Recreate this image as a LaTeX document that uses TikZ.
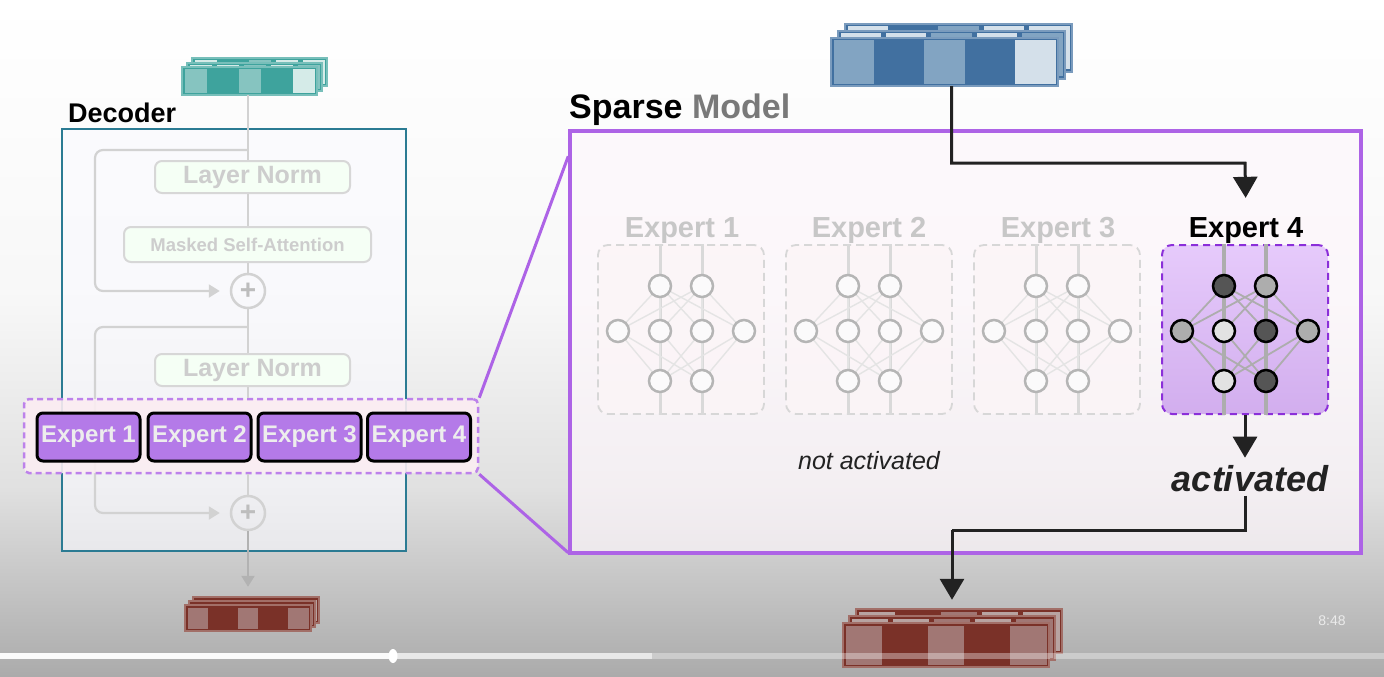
\documentclass[tikz,border=0pt]{standalone}
\usepackage{fontspec}
\setmainfont{Liberation Sans}
\usetikzlibrary{arrows.meta,calc,positioning,shapes.geometric}

\definecolor{tealbase}{HTML}{3EA39D}
\definecolor{teallight}{HTML}{86C4C0}
\definecolor{tealvlight}{HTML}{D5EBE8}
\definecolor{bluebase}{HTML}{4170A0}
\definecolor{bluelight}{HTML}{82A4C2}
\definecolor{bluevlight}{HTML}{D4E0EA}
\definecolor{redbase}{HTML}{7A3128}
\definecolor{redlight}{HTML}{A17774}
\definecolor{redvlight}{HTML}{B8A3A1}
\definecolor{lgray}{HTML}{D2D2D2}
\definecolor{fadetext}{HTML}{CDCDCD}
\definecolor{decteal}{HTML}{2B7B93}
\definecolor{moepurple}{HTML}{B47AE8}
\definecolor{zoompurple}{HTML}{AD63E6}
\definecolor{hotdash}{HTML}{8B2FD9}
\definecolor{hottop}{HTML}{E6CAFB}
\definecolor{hotbottom}{HTML}{D2AEEE}
\definecolor{dark}{HTML}{222222}
\definecolor{netwhite}{HTML}{FBFAFB}
\definecolor{netdark}{HTML}{555555}
\definecolor{netmid}{HTML}{ADADAD}
\definecolor{netlight}{HTML}{E2E2E2}

% one layer of a token stack: x, y (top left), w, h, base, cells
\newcommand{\tokrow}[6]{%
  \filldraw[fill=#5, draw=#5!70!white, line width=1.2pt] (#1,#2) rectangle ++(#3,#4);
  \foreach \c [count=\i from 0] in {#6}{%
    \fill[\c] ({#1+\i*#3/5+2.5},{#2+2.5}) rectangle ++({#3/5-5},{#4-5});
  }%
}

% small network inside an expert box
\newcommand{\expertnet}[4]{%
  \foreach \nx/\ny [count=\i] in {-21/286,21/286,-63/331,-21/331,21/331,63/331,-21/381,21/381}
    \coordinate (#1c\i) at (#2+\nx,\ny);
  \draw[#3 wire] (#1box.north -| #1c1) -- (#1box.south -| #1c1);
  \draw[#3 wire] (#1box.north -| #1c2) -- (#1box.south -| #1c2);
  \foreach \a in {1,2}{\foreach \b in {3,4,5,6}{\draw[#3 edge] (#1c\a) -- (#1c\b);}}
  \foreach \a in {3,4,5,6}{\foreach \b in {7,8}{\draw[#3 edge] (#1c\a) -- (#1c\b);}}
  \foreach \f [count=\i] in {#4}
    \node[#3 node, fill=\f] (#1n\i) at (#1c\i) {};
}

\tikzset{
  cold wire/.style={draw=lgray!85!white, line width=3pt},
  cold edge/.style={draw=lgray!60!white, line width=1.4pt},
  cold node/.style={circle, inner sep=0pt, minimum size=22pt, line width=2.5pt, draw=netmid!90!white},
  hot wire/.style={draw=netmid, line width=3.5pt},
  hot edge/.style={draw=netmid, line width=1.8pt},
  hot node/.style={circle, inner sep=0pt, minimum size=22pt, line width=2.5pt, draw=black},
}

\begin{document}
\begin{tikzpicture}[x=1pt,y=-1pt,
  gline/.style={draw=lgray, line width=2.2pt},
  garrow/.style={gline, -{Triangle[width=13pt,length=11pt]}},
  darrow/.style={draw=dark, line width=3pt, -{Triangle[width=24pt,length=21pt]}},
  zoomline/.style={draw=zoompurple, line width=3pt},
  fadebox/.style={draw=lgray!90!white, line width=2pt, fill=green!4!white, rounded corners=7pt,
    text=fadetext, font=\fontsize{25}{25}\selectfont\bfseries, inner sep=0pt},
  plus/.style={circle, draw=lgray, line width=2.5pt, minimum size=34pt, inner sep=0pt,
    text=lgray!90!black, font=\fontsize{28}{28}\selectfont\bfseries},
  expbtn/.style={draw=black, line width=3pt, fill=moepurple, rounded corners=6pt,
    minimum width=103pt, minimum height=48pt, inner sep=0pt,
    text=white!93!black, font=\fontsize{24}{24}\selectfont\bfseries},
  exptitle/.style={anchor=base, inner sep=0pt, font=\fontsize{29}{29}\selectfont\bfseries},
  coldbox/.style={draw=lgray!90!white, dash pattern=on 8pt off 5pt, line width=1.8pt,
    fill=white!96!purple, fill opacity=0.7, rounded corners=10pt,
    minimum width=166pt, minimum height=169pt},
  hotbox/.style={draw=hotdash, dash pattern=on 7pt off 5pt, line width=2pt,
    top color=hottop, bottom color=hotbottom, rounded corners=10pt,
    minimum width=166pt, minimum height=169pt},
  tokframe/.style={inner sep=0pt},
]
\useasboundingbox (0,0) rectangle (1384,677);

% background
\shade[top color=white, bottom color=white!97!black] (0,0) rectangle (1384,300);
\shade[top color=white!97!black, bottom color=white!67!black, middle color=white!88!black] (0,299) rectangle (1384,677);

% ---- decoder side ----
\node[draw=decteal, line width=2.5pt, fill=blue!2!white, fill opacity=0.6,
  minimum width=344pt, minimum height=422pt] (decoder) at (234,340) {};
\node[anchor=base west, inner sep=0pt, font=\fontsize{27}{27}\selectfont\bfseries] (dectitle) at (68,122) {Decoder};

\tokrow{192}{58}{135}{28}{tealbase}{tealvlight,tealbase,teallight,tealvlight,tealvlight}
\tokrow{187}{63}{135}{28}{tealbase}{tealvlight,tealvlight,teallight,tealvlight,teallight}
\tokrow{182}{67}{135}{28}{tealbase}{teallight,tealbase,teallight,tealbase,tealvlight}
\node[tokframe, minimum width=143pt, minimum height=37pt] (tealtok) at (253.5,76.5) {};

\node[fadebox, minimum width=195pt, minimum height=32pt] (ln1) at (252.5,177) {Layer Norm};
\node[fadebox, minimum width=247pt, minimum height=35pt, font=\fontsize{18.5}{18.5}\selectfont\bfseries] (msa) at (247.5,244.5) {Masked Self-Attention};
\node[plus] (plus1) at (248,291) {+};
\node[fadebox, minimum width=195pt, minimum height=32pt] (ln2) at (252.5,370) {Layer Norm};
\node[plus] (plus2) at (248,513) {+};

\coordinate (res1) at (248,150);
\coordinate (res1x) at (95,220);
\coordinate (res2) at (248,327);
\coordinate (res2x) at (95,420);

\draw[gline] (tealtok.south -| plus1) -- (ln1.north -| plus1);
\draw[gline] (ln1.south -| plus1) -- (msa.north -| plus1);
\draw[gline] (msa.south -| plus1) -- (plus1.north);
\draw[gline] (plus1.south) -- (ln2.north -| plus1);
\draw[garrow, rounded corners=8pt, shorten >=10pt] (res1) -| (res1x) |- (plus1.west);
\draw[garrow, rounded corners=8pt, shorten >=10pt] (res2) -| (res2x) |- (plus2.west);

% experts inside the decoder
\node[draw=zoompurple!80!white, dash pattern=on 6pt off 4pt, line width=2.5pt,
  fill=purple!7!white, fill opacity=0.9, rounded corners=5pt,
  minimum width=454pt, minimum height=74pt] (exprow) at (251,436) {};
\draw[gline] (ln2.south -| plus1) -- (exprow.north -| plus1);
\draw[gline] (exprow.south -| plus1) -- (plus2.north);
\node[expbtn] (btn1) at (88.5,437) {Expert 1};
\node[expbtn] (btn2) at (199.5,437) {Expert 2};
\node[expbtn] (btn3) at (309.5,437) {Expert 3};
\node[expbtn] (btn4) at (419,437) {Expert 4};

\tokrow{193}{597}{126}{26}{redbase}{redvlight,redbase,redlight,redvlight,redvlight}
\tokrow{189}{601}{126}{26}{redbase}{redvlight,redvlight,redlight,redvlight,redlight}
\tokrow{185}{605}{126}{26}{redbase}{redlight,redbase,redlight,redbase,redlight}
\node[tokframe, minimum width=134pt, minimum height=34pt] (redtokL) at (252,614) {};
\draw[garrow, draw=lgray!85!black, shorten >=10pt] (plus2.south) -- (plus2.south |- redtokL.north);

% ---- sparse model ----
\node[draw=zoompurple, line width=3.5pt, fill=magenta!3!white, fill opacity=0.65,
  minimum width=791pt, minimum height=422pt] (sparse) at (965.5,342) {};
\node[anchor=base west, inner sep=0pt, font=\fontsize{34}{34}\selectfont\bfseries] (sptitle) at (569,118)
  {Sparse \textcolor{gray!95!black}{Model}};
\draw[zoomline] (exprow.north east) -- ([yshift=-27pt]sparse.north west);
\draw[zoomline] (exprow.south east) -- ([yshift=2pt]sparse.south west);

\tokrow{845}{24}{227}{48}{bluebase}{bluevlight,bluebase,bluelight,bluevlight,bluevlight}
\tokrow{838}{31}{227}{48}{bluebase}{bluevlight,bluevlight,bluelight,bluevlight,bluelight}
\tokrow{831}{38}{227}{48}{bluebase}{bluelight,bluebase,bluelight,bluebase,bluevlight}
\node[tokframe, minimum width=241pt, minimum height=62pt] (bluetok) at (951.5,55) {};

\node[exptitle, text=lgray!95!black] (e1name) at (682,237) {Expert 1};
\node[exptitle, text=lgray!95!black] (e2name) at (869,237) {Expert 2};
\node[exptitle, text=lgray!95!black] (e3name) at (1058,237) {Expert 3};
\node[exptitle, text=black] (e4name) at (1246,237) {Expert 4};

\node[coldbox] (e1box) at (681,329.5) {};
\node[coldbox] (e2box) at (869,329.5) {};
\node[coldbox] (e3box) at (1057,329.5) {};
\node[hotbox] (e4box) at (1245,329.5) {};

\expertnet{e1}{681}{cold}{netwhite,netwhite,netwhite,netwhite,netwhite,netwhite,netwhite,netwhite}
\expertnet{e2}{869}{cold}{netwhite,netwhite,netwhite,netwhite,netwhite,netwhite,netwhite,netwhite}
\expertnet{e3}{1057}{cold}{netwhite,netwhite,netwhite,netwhite,netwhite,netwhite,netwhite,netwhite}
\expertnet{e4}{1245}{hot}{netdark,netmid,netmid,netlight,netdark,netmid,netlight,netdark}

\node[anchor=base, inner sep=0pt, text=dark, font=\fontsize{25}{25}\selectfont\itshape] (notact) at (869,469) {not activated};
\node[anchor=base, inner sep=0pt, text=dark, font=\fontsize{36}{36}\selectfont\bfseries\itshape] (activated) at (1250,491) {activated};

\coordinate (turnA) at (1245,163);
\coordinate (turnB) at (952,530);
\draw[darrow, shorten >=19pt] (bluetok.south) |- (turnA) -- (e4name.north);
\draw[darrow, shorten >=7pt] (e4box.south) -- (e4box.south |- activated.north);
\draw[darrow, -, line join=miter] ([yshift=-4pt]activated.south -| e4box) |- (turnB);

\tokrow{856}{609}{206}{44}{redbase}{redvlight,redbase,redlight,redvlight,redvlight}
\tokrow{849}{616}{206}{44}{redbase}{redvlight,redvlight,redlight,redvlight,redlight}
\tokrow{843}{623}{206}{44}{redbase}{redlight,redbase,redlight,redbase,redlight}
\node[tokframe, minimum width=219pt, minimum height=58pt] (redtok) at (952.5,638) {};
\draw[darrow, shorten >=9pt] (turnB) -- (turnB |- redtok.north);

% video bar
\fill[white, opacity=0.35] (393,653) rectangle (1384,659);
\fill[white, opacity=0.55] (393,653) rectangle (652,659);
\fill[white, opacity=0.95] (0,653) rectangle (393,659);
\node[ellipse, fill=white, inner sep=0pt, minimum width=9pt, minimum height=14pt] (scrub) at (393,656) {};
\node[inner sep=0pt, text=white!92!black, font=\fontsize{14}{14}\selectfont] (clock) at (1332,621) {8:48};
\end{tikzpicture}
\end{document}
